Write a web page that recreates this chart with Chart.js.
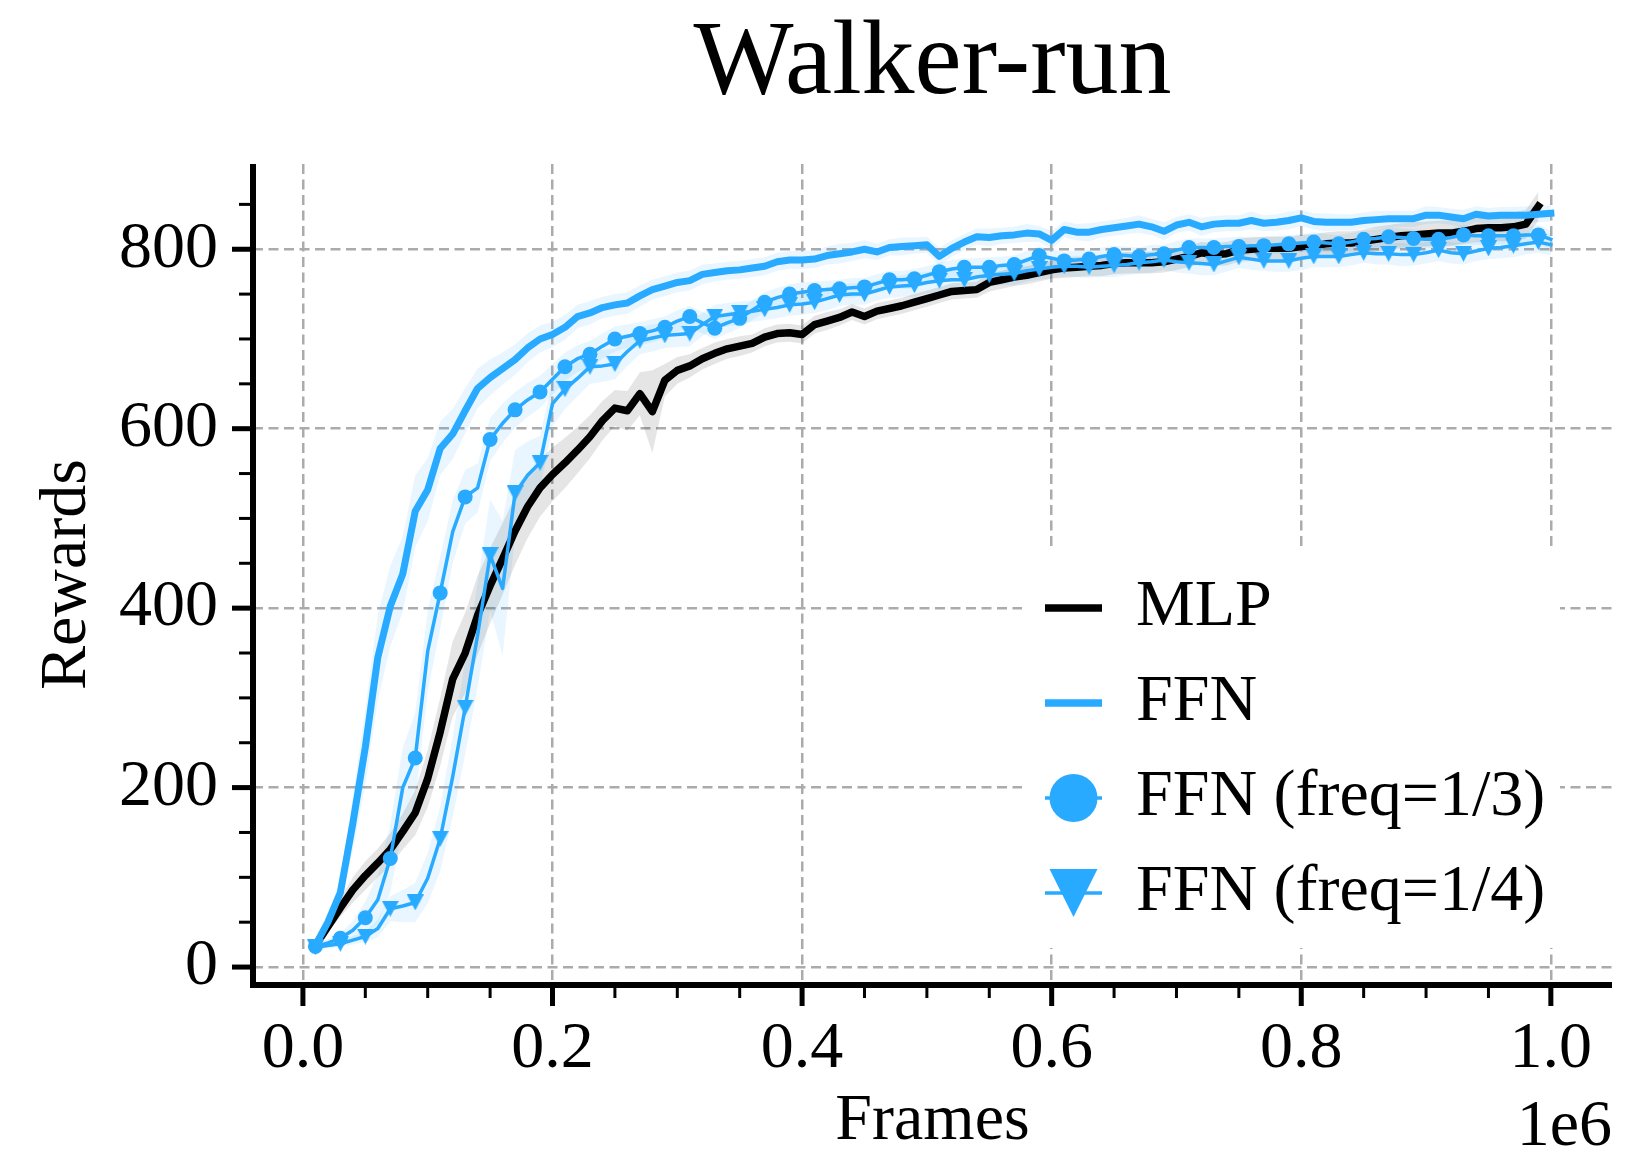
<!DOCTYPE html>
<html>
<head>
<meta charset="utf-8">
<title>Walker-run</title>
<script src="https://cdn.jsdelivr.net/npm/chart.js@4.4.0/dist/chart.umd.min.js"></script>
<style>
  html, body { margin: 0; padding: 0; background: #fff; }
  #wrap { width: 1630px; height: 1151px; }
</style>
</head>
<body>
<div id="wrap"><canvas id="rewardsChart" width="1630" height="1151"></canvas></div>
<script>
// evaluation points, in thousands of frames
var framesK = [
  10, 20, 30, 40, 50, 60, 70, 80, 90, 100,
  110, 120, 130, 140, 150, 160, 170, 180, 190, 200,
  210, 220, 230, 240, 250, 260, 270, 280, 290, 300,
  310, 320, 330, 340, 350, 360, 370, 380, 390, 400,
  410, 420, 430, 440, 450, 460, 470, 480, 490, 500,
  510, 520, 530, 540, 550, 560, 570, 580, 590, 600,
  610, 620, 630, 640, 650, 660, 670, 680, 690, 700,
  710, 720, 730, 740, 750, 760, 770, 780, 790, 800,
  810, 820, 830, 840, 850, 860, 870, 880, 890, 900,
  910, 920, 930, 940, 950, 960, 970, 980, 990, 1000
];

// mean episode reward and spread for each run
var mlpMean = [
  24, 45, 66, 86, 102, 116, 131, 151, 172, 210,
  262, 321, 350, 392, 425, 455, 486, 513, 534, 549,
  562, 576, 591, 609, 623, 620, 639, 619, 654, 665,
  670, 678, 684, 689, 692, 695, 702, 706, 707, 705,
  716, 720, 724, 730, 725, 731, 734, 737, 741, 745,
  749, 753, 754, 755, 763, 766, 769, 771, 774, 777,
  779, 780, 781, 782, 784, 785, 785, 785, 786, 789,
  792, 796, 794, 795, 799, 800, 801, 801, 801, 803,
  804, 806, 807, 807, 809, 811, 813, 815, 816, 817,
  818, 818, 820, 823, 824, 824, 825, 828, 848
];
var mlpStd = [
  3, 6, 10, 14, 16, 16, 18, 20, 25, 32,
  38, 42, 45, 44, 42, 40, 38, 35, 32, 30,
  28, 26, 24, 22, 20, 22, 24, 46, 18, 15,
  13, 12, 12, 11, 11, 10, 10, 10, 10, 10,
  10, 10, 9, 9, 9, 9, 9, 9, 9, 9,
  9, 9, 9, 9, 10, 10, 10, 10, 10, 10,
  11, 11, 11, 12, 12, 12, 12, 12, 12, 12,
  12, 12, 13, 13, 13, 13, 13, 13, 13, 13,
  13, 13, 13, 13, 13, 14, 14, 14, 14, 14,
  14, 14, 14, 15, 15, 15, 16, 16, 16
];

var ffnMean = [
  24, 50, 83, 160, 245, 345, 402, 438, 508, 532,
  578, 594, 620, 645, 657, 667, 677, 690, 700, 705,
  713, 725, 729, 735, 738, 740, 748, 755, 759, 763,
  765, 772, 774, 776, 777, 779, 781, 786, 788, 788,
  789, 793, 795, 797, 800, 797, 802, 803, 804, 805,
  792, 801, 808, 814, 813, 815, 816, 818, 817, 810,
  822, 819, 819, 822, 824, 826, 828, 825, 820, 827,
  830, 825, 828, 829, 829, 832, 829, 830, 832, 835,
  831, 830, 830, 830, 832, 833, 834, 834, 834, 838,
  838, 836, 834, 839, 837, 838, 838, 838, 839, 840
];
var ffnStd = [
  4, 8, 15, 30, 42, 48, 45, 42, 40, 35,
  30, 28, 25, 22, 20, 18, 17, 16, 15, 14,
  14, 13, 13, 12, 12, 12, 12, 11, 11, 11,
  11, 11, 10, 10, 10, 10, 10, 10, 10, 10,
  10, 10, 11, 10, 10, 9, 9, 10, 9, 9,
  10, 9, 9, 9, 10, 9, 9, 10, 9, 10,
  9, 9, 10, 9, 9, 9, 10, 9, 10, 9,
  9, 10, 9, 9, 9, 10, 9, 9, 10, 9,
  9, 10, 9, 9, 9, 10, 9, 9, 9, 10,
  9, 9, 10, 9, 9, 9, 9, 10, 9, 9
];

var freq3Mean = [
  23, 27, 32, 41, 55, 75, 121, 200, 233, 352,
  417, 485, 524, 534, 588, 606, 621, 632, 641, 655,
  669, 678, 683, 692, 700, 703, 706, 709, 713, 720,
  725, 718, 712, 718, 723, 732, 741, 746, 750, 752,
  754, 755, 756, 757, 758, 762, 766, 766, 767, 771,
  775, 778, 780, 780, 780, 782, 783, 788, 793, 790,
  787, 788, 789, 792, 794, 793, 792, 794, 795, 799,
  802, 802, 802, 803, 803, 804, 804, 805, 806, 807,
  808, 807, 806, 808, 811, 812, 814, 813, 812, 811,
  811, 813, 816, 815, 815, 815, 815, 816, 816, 811
];
var freq3Std = [
  3, 4, 6, 10, 18, 28, 38, 45, 50, 45,
  40, 35, 30, 27, 24, 22, 20, 19, 18, 17,
  16, 15, 15, 14, 14, 13, 13, 13, 12, 12,
  12, 12, 12, 12, 11, 11, 11, 11, 11, 11,
  10, 10, 10, 11, 10, 10, 10, 10, 11, 10,
  10, 10, 10, 10, 11, 10, 10, 10, 10, 10,
  10, 11, 10, 10, 10, 10, 10, 11, 10, 10,
  10, 10, 10, 10, 11, 10, 10, 10, 10, 10,
  11, 10, 10, 10, 10, 10, 11, 10, 10, 10,
  10, 10, 11, 10, 10, 10, 10, 10, 11, 10
];

var freq4Mean = [
  22, 24, 26, 30, 34, 43, 65, 68, 72, 99,
  143, 212, 289, 370, 459, 422, 528, 548, 562, 628,
  644, 656, 669, 670, 672, 686, 698, 701, 704, 705,
  706, 716, 725, 727, 729, 731, 733, 735, 738, 739,
  741, 745, 749, 750, 750, 754, 758, 759, 760, 763,
  765, 766, 766, 769, 771, 772, 773, 776, 778, 780,
  781, 781, 780, 781, 782, 783, 785, 786, 788, 786,
  785, 784, 783, 787, 791, 789, 787, 787, 787, 790,
  792, 792, 792, 794, 796, 795, 795, 794, 794, 796,
  799, 796, 795, 798, 801, 802, 804, 806, 808, 805
];
var freq4Std = [
  3, 3, 4, 5, 6, 10, 14, 18, 22, 28,
  36, 45, 52, 58, 62, 75, 48, 38, 30, 25,
  22, 20, 19, 18, 17, 16, 15, 15, 14, 14,
  14, 13, 13, 13, 13, 12, 12, 12, 12, 12,
  12, 13, 12, 12, 12, 11, 12, 12, 13, 12,
  12, 12, 11, 12, 12, 12, 13, 12, 12, 12,
  11, 12, 12, 12, 13, 12, 12, 12, 11, 12,
  12, 13, 12, 12, 12, 12, 11, 12, 12, 13,
  12, 12, 12, 12, 11, 12, 12, 13, 12, 12,
  12, 12, 12, 11, 12, 12, 13, 12, 12, 12
];

var xTicks = [0, 200000, 400000, 600000, 800000, 1000000];
var xMinorTicks = [50000, 100000, 150000, 250000, 300000, 350000, 450000, 500000, 550000,
  650000, 700000, 750000, 850000, 900000, 950000];
var yTicks = [0, 200, 400, 600, 800];
var yMinorTicks = [50, 100, 150, 250, 300, 350, 450, 500, 550, 650, 700, 750, 850];

var BLUE = '#27aaff';
var BLUE_BAND = 'rgba(39, 170, 255, 0.1)';
var GREY_BAND = 'rgba(0, 0, 0, 0.1)';
var SERIF = "'Liberation Serif', 'Times New Roman', serif";

Chart.defaults.font.family = SERIF;
Chart.defaults.color = '#000';

function toPoints(values) {
  return values.map(function (v, i) { return { x: framesK[i] * 1000, y: v }; });
}
function offsetPoints(mean, std, sign) {
  return mean.map(function (m, i) { return { x: framesK[i] * 1000, y: m + sign * std[i] }; });
}

function bandPair(mean, std, colour, lowerIndex) {
  var common = { borderWidth: 0, borderColor: 'transparent', pointRadius: 0, order: 10, tension: 0 };
  return [
    Object.assign({ data: offsetPoints(mean, std, -1), fill: false }, common),
    Object.assign({ data: offsetPoints(mean, std, 1), fill: { target: lowerIndex }, backgroundColor: colour }, common)
  ];
}

// 'v' marker used for the freq=1/4 run
function downTriangle(w, h) {
  var c = document.createElement('canvas');
  c.width = w; c.height = h;
  var g = c.getContext('2d');
  g.fillStyle = BLUE;
  g.beginPath();
  g.moveTo(0, 0); g.lineTo(w, 0); g.lineTo(w / 2, h);
  g.closePath();
  g.fill();
  return c;
}
var triMarker = downTriangle(17, 16);

function everyOther(r) {
  return function (ctx) { return ctx.dataIndex % 2 === 0 ? r : 0; };
}

var datasets = []
  .concat(bandPair(mlpMean, mlpStd, GREY_BAND, 0))
  .concat(bandPair(ffnMean, ffnStd, BLUE_BAND, 2))
  .concat(bandPair(freq3Mean, freq3Std, BLUE_BAND, 4))
  .concat(bandPair(freq4Mean, freq4Std, BLUE_BAND, 6))
  .concat([
    { label: 'MLP', data: toPoints(mlpMean), borderColor: '#000', borderWidth: 7.5,
      pointRadius: 0, fill: false, order: 4, legendLine: 7.5 },
    { label: 'FFN', data: toPoints(ffnMean), borderColor: BLUE, borderWidth: 7,
      pointRadius: 0, fill: false, order: 3, legendLine: 7.5 },
    { label: 'FFN (freq=1/3)', data: toPoints(freq3Mean), borderColor: BLUE, borderWidth: 3.5,
      pointStyle: 'circle', pointRadius: everyOther(7.5), pointBackgroundColor: BLUE,
      pointBorderWidth: 0, fill: false, order: 2, legendLine: 3.5, legendMarker: 'circle' },
    { label: 'FFN (freq=1/4)', data: toPoints(freq4Mean), borderColor: BLUE, borderWidth: 3.5,
      pointStyle: triMarker, pointRadius: everyOther(8), pointBorderWidth: 0,
      fill: false, order: 1, legendLine: 3.5, legendMarker: 'triangle' }
  ]);

// spines, tick marks and the offset label
var axisFrame = {
  id: 'axisFrame',
  afterDraw: function (chart) {
    var ctx = chart.ctx, area = chart.chartArea;
    var xs = chart.scales.x, ys = chart.scales.y;
    ctx.save();
    ctx.fillStyle = '#000';
    ctx.fillRect(area.left - 3, area.top, 6, area.bottom - area.top + 3);
    ctx.fillRect(area.left - 3, area.bottom - 3, area.right - area.left + 3, 6);
    xTicks.forEach(function (v) {
      var px = xs.getPixelForValue(v);
      ctx.fillRect(px - 2.5, area.bottom, 5, 21);
    });
    xMinorTicks.forEach(function (v) {
      var px = xs.getPixelForValue(v);
      ctx.fillRect(px - 1.5, area.bottom, 3, 13);
    });
    yTicks.forEach(function (v) {
      var py = ys.getPixelForValue(v);
      ctx.fillRect(area.left - 21, py - 2.5, 21, 5);
    });
    yMinorTicks.forEach(function (v) {
      var py = ys.getPixelForValue(v);
      ctx.fillRect(area.left - 14, py - 1.5, 14, 3);
    });
    ctx.font = '66px ' + SERIF;
    ctx.textAlign = 'right';
    ctx.textBaseline = 'alphabetic';
    ctx.fillText('1e6', area.right, chart.height - 6);
    ctx.restore();
  }
};

// legend sitting inside the axes, lower right
var insetLegend = {
  id: 'insetLegend',
  afterDatasetsDraw: function (chart) {
    var ctx = chart.ctx, area = chart.chartArea;
    var boxLeft = area.right - 590, boxTop = area.top + 387;
    var x0 = area.right - 567, x1 = area.right - 510, textX = area.right - 476;
    var rowY = area.top + 444, rowGap = 95;
    ctx.save();
    ctx.fillStyle = '#fff';
    ctx.fillRect(boxLeft, boxTop, 538, 397);
    chart.data.datasets.filter(function (d) { return d.label; }).forEach(function (d, i) {
      var y = rowY + i * rowGap;
      var cx = (x0 + x1) / 2;
      ctx.strokeStyle = d.borderColor;
      ctx.lineWidth = d.legendLine;
      ctx.beginPath();
      ctx.moveTo(x0, y); ctx.lineTo(x1, y);
      ctx.stroke();
      ctx.fillStyle = d.borderColor;
      if (d.legendMarker === 'circle') {
        ctx.beginPath();
        ctx.arc(cx, y, 24, 0, Math.PI * 2);
        ctx.fill();
      } else if (d.legendMarker === 'triangle') {
        ctx.beginPath();
        ctx.moveTo(cx - 24, y - 24); ctx.lineTo(cx + 24, y - 24); ctx.lineTo(cx, y + 24);
        ctx.closePath();
        ctx.fill();
      }
      ctx.fillStyle = '#000';
      ctx.font = '66px ' + SERIF;
      ctx.textAlign = 'left';
      ctx.textBaseline = 'middle';
      ctx.fillText(d.label, textX, y);
    });
    ctx.restore();
  }
};

new Chart(document.getElementById('rewardsChart').getContext('2d'), {
  type: 'line',
  data: { datasets: datasets },
  plugins: [axisFrame, insetLegend],
  options: {
    responsive: false,
    animation: false,
    devicePixelRatio: 1,
    events: [],
    layout: { padding: { top: 0, right: 18, bottom: 0, left: 0 } },
    elements: {
      line: { tension: 0, borderJoinStyle: 'round', borderCapStyle: 'square' }
    },
    plugins: {
      legend: { display: false },
      tooltip: { enabled: false },
      title: {
        display: true,
        text: 'Walker-run',
        fullSize: false,
        color: '#000',
        font: { family: SERIF, size: 106, weight: 'normal', lineHeight: 1 },
        padding: { top: 12, bottom: 46 }
      }
    },
    scales: {
      x: {
        type: 'linear',
        min: -40000,
        max: 1049000,
        afterBuildTicks: function (s) { s.ticks = xTicks.map(function (v) { return { value: v }; }); },
        afterFit: function (s) { s.height = 166; s.paddingLeft = 0; s.paddingRight = 0; },
        grid: { color: '#ababab', lineWidth: 2.5, drawTicks: false },
        border: { display: false, dash: [10, 5.5] },
        ticks: {
          padding: 25,
          maxRotation: 0,
          font: { size: 66 },
          callback: function (v) { return (v / 1e6).toFixed(1); }
        },
        title: {
          display: true,
          text: 'Frames',
          font: { size: 66, lineHeight: 0.9 },
          padding: { top: 0, bottom: 0 }
        }
      },
      y: {
        type: 'linear',
        min: -20,
        max: 895,
        afterBuildTicks: function (s) { s.ticks = yTicks.map(function (v) { return { value: v }; }); },
        afterFit: function (s) { s.width = 253; s.paddingTop = 0; s.paddingBottom = 0; },
        grid: { color: '#ababab', lineWidth: 2.5, drawTicks: false },
        border: { display: false, dash: [10, 5.5] },
        ticks: { padding: 35, font: { size: 66 } },
        title: {
          display: true,
          text: 'Rewards',
          font: { size: 66 },
          padding: { top: 28, bottom: 0 }
        }
      }
    }
  }
});
</script>
</body>
</html>
